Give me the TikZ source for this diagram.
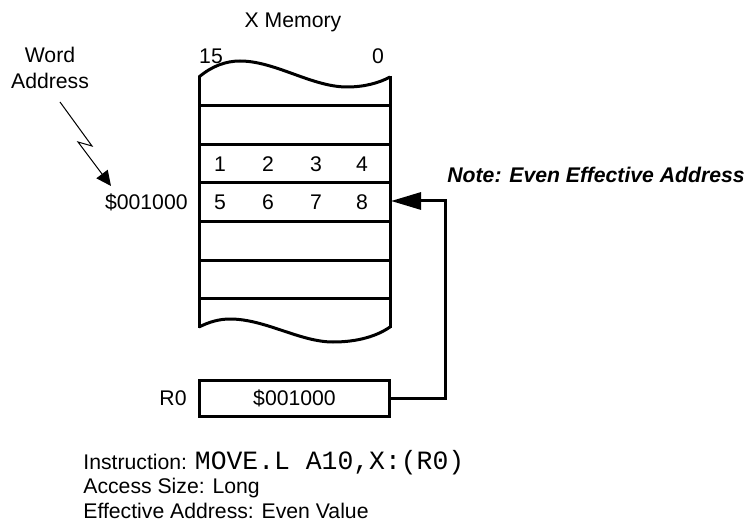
\documentclass[tikz,border=0pt]{standalone}
\usepackage{fontspec}
\setmainfont{Liberation Sans}
\setmonofont{Liberation Mono}
\usetikzlibrary{arrows.meta}
\begin{document}
\begin{tikzpicture}[x=0.5pt,y=-0.5pt,
  txt/.style={inner sep=0pt, font=\fontsize{10.6}{13}\selectfont},
  note/.style={inner sep=0pt, font=\fontsize{10.6}{13}\selectfont\bfseries\itshape},
  monotxt/.style={font=\fontsize{13.2}{15}\ttfamily},
  memline/.style={line width=1.5pt},
  regbox/.style={draw, line width=1.5pt, minimum width=95pt, minimum height=18pt, inner sep=0pt, font=\fontsize{10.6}{13}\selectfont},
  conn/.style={line width=1.5pt, -{Triangle[length=15pt,width=8.5pt]}},
  zig/.style={line width=0.5pt, -{Triangle[length=7.5pt,width=7pt]}}]
\useasboundingbox (0,0) rectangle (747,523);

% memory outline
\draw[memline] (199,77) .. controls (212,66) and (226,61) .. (240,61)
  .. controls (275,61) and (312,87) .. (347,87)
  .. controls (364,87) and (379,83) .. (390,77);
\draw[memline] (199,327) .. controls (209,322) and (219,319) .. (230,319)
  .. controls (265,319) and (300,342) .. (333,342)
  .. controls (358,342) and (377,336) .. (390,327);
\draw[memline] (199,76) -- (199,328);
\draw[memline] (390,76) -- (390,328);
\foreach \yy in {106,145,183,222,260,298}
  \draw[memline] (199,\yy) -- (390,\yy);

% titles
\node[txt] (xmem) at (293,22) {X Memory};
\node[txt] (b15) at (211,56) {15};
\node[txt] (b0) at (378,56) {0};

% cells
\node[txt] (c1) at (220,164) {1};
\node[txt] (c2) at (268,164) {2};
\node[txt] (c3) at (316,164) {3};
\node[txt] (c4) at (362,164) {4};
\node[txt] (c5) at (220,202) {5};
\node[txt] (c6) at (268,202) {6};
\node[txt] (c7) at (316,202) {7};
\node[txt] (c8) at (362,202) {8};
\coordinate (r2e) at (391,201);

% address label
\node[txt, anchor=east] (addr) at (188,202) {\$001000};
\node[txt, align=center] (wa) at (50,68) {Word\\Address};
\coordinate (z0) at (60,102);
\coordinate (z1) at (92,146);
\coordinate (z2) at (78,142);
\coordinate (z3) at (111,186);
\draw[zig] (z0) -- (z1) -- (z2) -- (z3);

% note
\node[note, anchor=west] (nt) at (447,175) {Note: Even Effective Address};

% register
\node[txt] (r0lab) at (173,398) {R0};
\node[regbox] (r0) at (294.5,398) {\$001000};
\coordinate (bend) at (445,201);
\draw[conn] (r0.east) -| (bend) -- (r2e);

% instruction text
\node[txt, anchor=base west] (ins) at (83,469) {Instruction: {\fontsize{13.2}{15}\ttfamily MOVE.L A10,X:(R0)}};
\node[txt, anchor=base west] (acc) at (83,493) {Access Size: Long};
\node[txt, anchor=base west] (eff) at (83,518) {Effective Address: Even Value};
\end{tikzpicture}
\end{document}
